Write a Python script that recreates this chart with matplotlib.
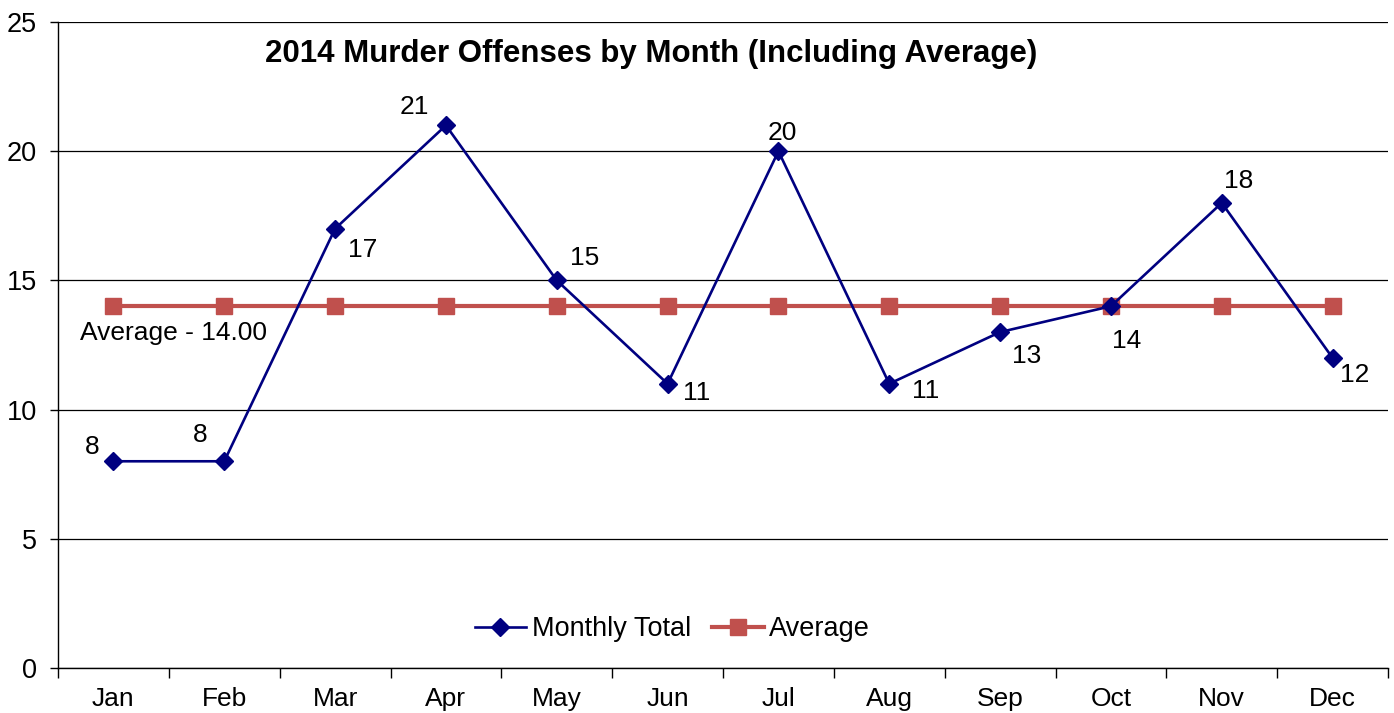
import numpy as np
import matplotlib.pyplot as plt

plt.rcParams['font.family'] = ['Liberation Sans', 'DejaVu Sans']

# data
months = ['Jan', 'Feb', 'Mar', 'Apr', 'May', 'Jun', 'Jul', 'Aug', 'Sep', 'Oct', 'Nov', 'Dec']
monthly_total = [8, 8, 17, 21, 15, 11, 20, 11, 13, 14, 18, 12]
average = [14.0] * 12
# label offsets in points (dx, dy)
label_offsets = [(-15, 10), (-17, 19), (20, -15), (-23, 13), (20, 16), (21, -7),
                 (3, 13), (26, -5), (19, -17), (11, -25), (12, 16), (16, -12)]

fig = plt.figure(figsize=(13.94, 7.13), dpi=100)
ax = fig.add_axes([58 / 1394, 45 / 713, 1330 / 1394, 646 / 713])

x = np.arange(len(months))
ax.plot(x, monthly_total, color='#000080', lw=1.9, marker='D', ms=9,
        label='Monthly Total', zorder=4)
ax.plot(x, average, color='#C0504D', lw=3, marker='s', ms=11,
        label='Average', zorder=3)

for xi, v, (dx, dy) in zip(x, monthly_total, label_offsets):
    ax.annotate(str(v), (xi, v), xytext=(dx, dy), textcoords='offset points',
                ha='center', va='center', fontsize=19)

ax.text(0.54, 12.95, 'Average - %.2f' % average[0], ha='center', va='center', fontsize=19)

ax.set_xlim(-0.5, 11.5)
ax.set_ylim(0, 25)
ax.set_yticks(range(0, 26, 5))
ax.yaxis.grid(True, color='#000000', lw=0.9)
ax.set_axisbelow(True)

ax.set_xticks(x)
ax.set_xticklabels(months)
ax.set_xticks(np.arange(-0.5, 12, 1), minor=True)
ax.tick_params(axis='x', which='major', length=0, pad=14, labelsize=19)
ax.tick_params(axis='x', which='minor', length=7, width=1)
ax.tick_params(axis='y', length=6, width=1, labelsize=19.5, pad=9)

for s in ['top', 'right']:
    ax.spines[s].set_visible(False)
for s in ['left', 'bottom']:
    ax.spines[s].set_linewidth(1)

ax.text(0.446, 0.95, '2014 Murder Offenses by Month (Including Average)',
        transform=ax.transAxes, ha='center', va='center',
        fontsize=22.5, fontweight='bold')

ax.legend(loc='center', bbox_to_anchor=(0.462, 0.06), ncol=2, frameon=False,
          fontsize=19.5, handlelength=1.9, handletextpad=0.2, columnspacing=0.8)

fig.savefig('out.png', dpi=100)
